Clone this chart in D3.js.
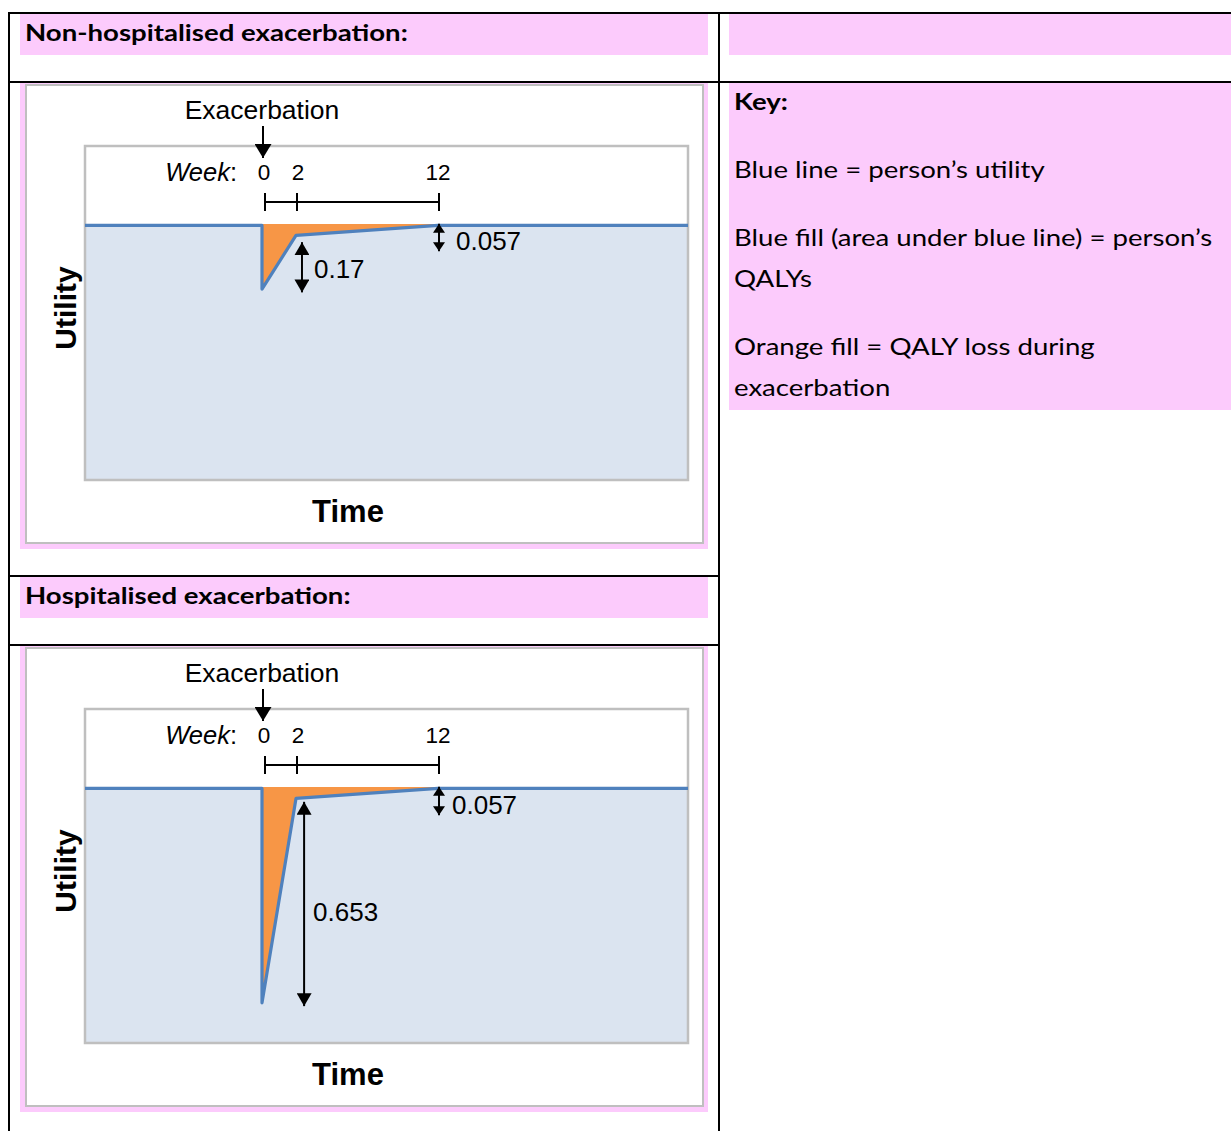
<!DOCTYPE html>
<html>
<head>
<meta charset="utf-8">
<script src="https://cdn.jsdelivr.net/npm/d3@7/dist/d3.min.js"></script>
<style>
  html, body { margin: 0; padding: 0; background: #fff; }
  svg { display: block; }
</style>
</head>
<body>
<script>
// ---------------- DATA ----------------
const panelTitles = ["Non-hospitalised exacerbation:", "Hospitalised exacerbation:"];
const timeWeeks = [-12, 0, 0, 2, 12, 29];
const nonHospUtility = [0.76, 0.76, 0.57, 0.73, 0.76, 0.76];
const hospUtility = [0.76, 0.76, 0.12, 0.73, 0.76, 0.76];
const weekTicks = [0, 2, 12];
const weekTickLabels = ["0", "2", "12"];
// annotation arrows: week position, utility from/to, label and its utility position
const nonHospNotes = [
  { week: 12, from: 0.765, to: 0.683, label: "0.057", labelU: 0.715, dx: 18 },
  { week: 2.35, from: 0.710, to: 0.560, label: "0.17", labelU: 0.63, dx: 13 }
];
const hospNotes = [
  { week: 12, from: 0.765, to: 0.68, label: "0.057", labelU: 0.71, dx: 14 },
  { week: 2.5, from: 0.72, to: 0.11, label: "0.653", labelU: 0.39, dx: 10 }
];
const keyTitle = "Key:";
const keyParagraphs = [
  ["Blue line = person\u2019s utility"],
  ["Blue fill (area under blue line) = person\u2019s", "QALYs"],
  ["Orange fill = QALY loss during", "exacerbation"]
];

// ---------------- LAYOUT ----------------
const W = 1231, H = 1131;
const svg = d3.select("body").append("svg").attr("width", W).attr("height", H);

const PINK = "#fccbfc";
const BLUE = "#4f81bd";
const BLUEFILL = "#dbe4f0";
const ORANGE = "#f79646";
const GREY = "#bfbfbf";
const ARIAL = "'Liberation Sans', Arial, sans-serif";
const CALIBRI = "Lato, 'Open Sans', sans-serif";
const CAL_SIZE = 23, CAL_STRETCH = 1.2;

// arrow markers
const defs = svg.append("defs");
function marker(id, w, h) {
  defs.append("marker").attr("id", id)
    .attr("viewBox", `0 0 ${w} ${h}`).attr("refX", w).attr("refY", h / 2)
    .attr("markerWidth", w).attr("markerHeight", h)
    .attr("markerUnits", "userSpaceOnUse").attr("orient", "auto-start-reverse")
    .append("path").attr("d", `M0,0L${w},${h / 2}L0,${h}Z`).attr("fill", "#000");
}
marker("arrBig", 13, 15);
marker("arrSmall", 9, 12);
marker("arrExac", 14, 17);

// text in the table font (horizontally stretched to match the reference)
function tableText(x, y, txt, bold) {
  svg.append("text")
    .attr("transform", `translate(${x},${y}) scale(${CAL_STRETCH},1)`)
    .attr("dy", "0.35em")
    .attr("font-family", CALIBRI).attr("font-weight", bold ? 700 : 400)
    .attr("font-size", CAL_SIZE).attr("fill", "#000").text(txt);
}

// ---------------- TABLE BACKGROUNDS ----------------
svg.append("rect").attr("x", 20).attr("y", 14).attr("width", 688).attr("height", 41).attr("fill", PINK);
svg.append("rect").attr("x", 729).attr("y", 14).attr("width", 502).attr("height", 41).attr("fill", PINK);
svg.append("rect").attr("x", 20).attr("y", 577).attr("width", 688).attr("height", 41).attr("fill", PINK);
svg.append("rect").attr("x", 729).attr("y", 83).attr("width", 502).attr("height", 327).attr("fill", PINK);

tableText(25, 33, panelTitles[0], true);
tableText(25, 596, panelTitles[1], true);

tableText(734, 102, keyTitle, true);
let ky = 170;
keyParagraphs.forEach(p => {
  p.forEach((line, i) => tableText(734, ky + i * 41, line, false));
  ky += (p.length - 1) * 41 + 68;
});

// ---------------- CHART PANELS ----------------
function drawPanel(offY, values, notes) {
  const g = svg.append("g").attr("transform", `translate(0,${offY})`);
  g.append("rect").attr("x", 20).attr("y", 83).attr("width", 688).attr("height", 466).attr("fill", PINK);
  g.append("rect").attr("x", 26).attr("y", 85).attr("width", 677).attr("height", 458)
    .attr("fill", "#fff").attr("stroke", GREY).attr("stroke-width", 2);

  const plot = { x0: 85, x1: 688, y0: 146, y1: 480 };
  const x = d3.scaleLinear().domain([-12, 0, 2, 12, 29]).range([plot.x0, 262, 296, 438, plot.x1]);
  const y = d3.scaleLinear().domain([0, 1]).range([plot.y1, plot.y1 - 335]);

  g.append("rect").attr("x", plot.x0).attr("y", plot.y0).attr("width", plot.x1 - plot.x0)
    .attr("height", plot.y1 - plot.y0).attr("fill", "#fff");

  const pts = timeWeeks.map((w, i) => ({ w, u: values[i] }));
  const base = values[0];
  const lossPts = pts.filter(p => p.w >= 0 && p.w <= 12);
  g.append("path").datum(lossPts)
    .attr("d", d3.area().x(d => x(d.w)).y0(y(base) - 1.5).y1(d => y(d.u)))
    .attr("fill", ORANGE);
  g.append("path").datum(pts)
    .attr("d", d3.area().x(d => x(d.w)).y0(plot.y1).y1(d => y(d.u)))
    .attr("fill", BLUEFILL);
  g.append("rect").attr("x", plot.x0).attr("y", plot.y0).attr("width", plot.x1 - plot.x0)
    .attr("height", plot.y1 - plot.y0).attr("fill", "none").attr("stroke", GREY).attr("stroke-width", 2.5);
  g.append("path").datum(pts)
    .attr("d", d3.line().x(d => x(d.w)).y(d => y(d.u)))
    .attr("fill", "none").attr("stroke", BLUE).attr("stroke-width", 3.2).attr("stroke-linejoin", "round");

  // Exacerbation label + arrow
  g.append("text").attr("x", x(0)).attr("y", 110).attr("dy", "0.35em").attr("text-anchor", "middle")
    .attr("font-family", ARIAL).attr("font-size", 26.5).text("Exacerbation");
  g.append("line").attr("x1", x(0) + 1).attr("x2", x(0) + 1).attr("y1", 126).attr("y2", 158)
    .attr("stroke", "#000").attr("stroke-width", 2).attr("marker-end", "url(#arrExac)");

  // week labels
  g.append("text").attr("x", 237).attr("y", 172).attr("dy", "0.35em").attr("text-anchor", "end")
    .attr("font-family", ARIAL).attr("font-size", 25.5)
    .call(t => { t.append("tspan").attr("font-style", "italic").text("Week"); t.append("tspan").text(":"); });
  g.selectAll("text.wk").data(weekTicks).join("text").attr("class", "wk")
    .attr("x", d => x(d) + (d === 12 ? 0 : 2)).attr("y", 172).attr("dy", "0.35em").attr("text-anchor", "middle")
    .attr("font-family", ARIAL).attr("font-size", 22.5).text((d, i) => weekTickLabels[i]);
  g.append("line").attr("x1", x(weekTicks[0]) + 3).attr("x2", x(weekTicks[2]) + 1)
    .attr("y1", 202).attr("y2", 202).attr("stroke", "#000").attr("stroke-width", 2);
  g.selectAll("line.wt").data(weekTicks).join("line").attr("class", "wt")
    .attr("x1", d => x(d) + (d === 0 ? 3 : 1)).attr("x2", d => x(d) + (d === 0 ? 3 : 1))
    .attr("y1", 193).attr("y2", 211).attr("stroke", "#000").attr("stroke-width", 2);

  // annotations
  notes.forEach(n => {
    const small = n.label === "0.057";
    const m = small ? "arrSmall" : "arrBig";
    g.append("line").attr("x1", x(n.week) + 1).attr("x2", x(n.week) + 1)
      .attr("y1", y(n.from)).attr("y2", y(n.to))
      .attr("stroke", "#000").attr("stroke-width", 2)
      .attr("marker-start", `url(#${m})`).attr("marker-end", `url(#${m})`);
    g.append("text").attr("x", x(n.week) + n.dx).attr("y", y(n.labelU))
      .attr("dy", "0.35em").attr("font-family", ARIAL).attr("font-size", 26).text(n.label);
  });

  // axis titles
  g.append("text").attr("x", 348).attr("y", 511).attr("dy", "0.35em").attr("text-anchor", "middle")
    .attr("font-family", ARIAL).attr("font-weight", 700).attr("font-size", 31).text("Time");
  g.append("text").attr("transform", "translate(65,308) rotate(-90)").attr("dy", "0.35em")
    .attr("text-anchor", "middle").attr("font-family", ARIAL).attr("font-weight", 700)
    .attr("font-size", 30).text("Utility");
}

drawPanel(0, nonHospUtility, nonHospNotes);
drawPanel(563, hospUtility, hospNotes);

// ---------------- TABLE LINES ----------------
const lines = [
  [9, 13, 1231, 13], [9, 82, 1231, 82], [9, 576, 719, 576], [9, 645, 719, 645],
  [9, 12, 9, 1131], [719, 12, 719, 1131]
];
svg.selectAll("line.tbl").data(lines).join("line").attr("class", "tbl")
  .attr("x1", d => d[0]).attr("y1", d => d[1]).attr("x2", d => d[2]).attr("y2", d => d[3])
  .attr("stroke", "#000").attr("stroke-width", 2);
</script>
</body>
</html>
